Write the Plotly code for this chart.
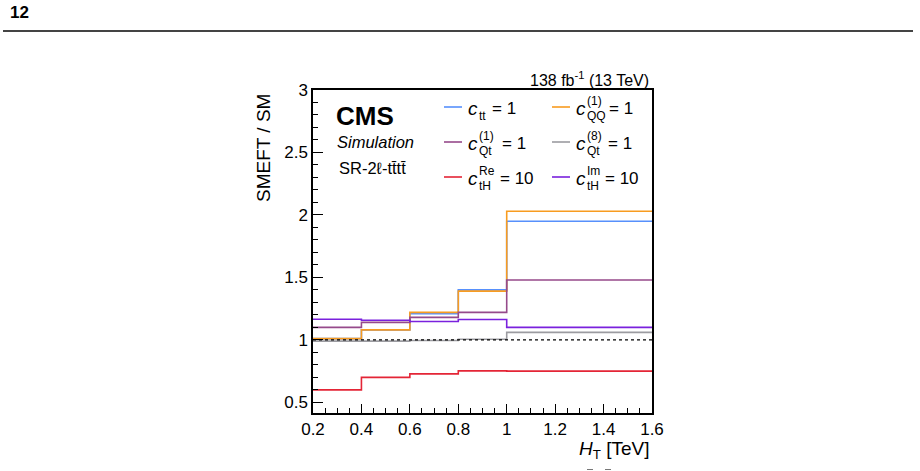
import plotly.graph_objects as go

# ---------------- data ----------------
bin_edges = [0.2, 0.4, 0.6, 0.8, 1.0, 1.6]
series_names = ["ctt", "cQQ1", "cQt1", "cQt8", "ctHRe", "ctHIm"]
ratio_ctt = [1.01, 1.08, 1.21, 1.40, 1.95]
ratio_cQQ1 = [1.01, 1.08, 1.22, 1.39, 2.03]
ratio_cQt1 = [1.10, 1.14, 1.18, 1.22, 1.48]
ratio_cQt8 = [0.99, 0.99, 0.995, 1.005, 1.06]
ratio_ctHRe = [0.60, 0.70, 0.728, 0.752, 0.75]
ratio_ctHIm = [1.165, 1.157, 1.147, 1.163, 1.10]
sm_reference = 1.0

x_ticks = [0.2, 0.4, 0.6, 0.8, 1.0, 1.2, 1.4, 1.6]
x_ticklabels = ["0.2", "0.4", "0.6", "0.8", "1", "1.2", "1.4", "1.6"]
y_ticks = [0.5, 1.0, 1.5, 2.0, 2.5, 3.0]
y_ticklabels = ["0.5", "1", "1.5", "2", "2.5", "3"]

colors = {
    "ctt": "#5790fc",
    "cQQ1": "#f89c20",
    "cQt1": "#964a8b",
    "cQt8": "#9c9ca1",
    "ctHRe": "#e42536",
    "ctHIm": "#7a21dd",
}
values = {
    "ctt": ratio_ctt,
    "cQQ1": ratio_cQQ1,
    "cQt1": ratio_cQt1,
    "cQt8": ratio_cQt8,
    "ctHRe": ratio_ctHRe,
    "ctHIm": ratio_ctHIm,
}

FONT = "Liberation Sans, Arial, Helvetica, sans-serif"
W, H = 920, 471
L, R, T, B = 313, 652, 90, 413


def px(x):
    return (x - L) / (R - L)


def py(y):
    return (B - y) / (B - T)


fig = go.Figure()

for name in series_names:
    v = values[name]
    fig.add_trace(go.Scatter(
        x=bin_edges,
        y=v + [v[-1]],
        mode="lines",
        line=dict(color=colors[name], width=1.6, shape="hv"),
        showlegend=False,
        hoverinfo="skip",
    ))

# SM reference dotted line
fig.add_trace(go.Scatter(
    x=[bin_edges[0], bin_edges[-1]],
    y=[sm_reference, sm_reference],
    mode="lines",
    line=dict(color="black", width=1.2, dash="dot"),
    showlegend=False,
    hoverinfo="skip",
))

annotations = []
shapes = []


def text(x, y, s, size, xanchor="left", yanchor="middle", color="black", **kw):
    annotations.append(dict(
        x=px(x), y=py(y), xref="paper", yref="paper", text=s,
        showarrow=False, xanchor=xanchor, yanchor=yanchor,
        font=dict(family=FONT, size=size, color=color), **kw))


# page header
text(8, 13, "<b>12</b>", 17)
shapes.append(dict(type="line", xref="paper", yref="paper",
                   x0=px(3), x1=px(913), y0=py(31), y1=py(31),
                   line=dict(color="#444444", width=2)))

# luminosity label
text(651, 79, "138 fb<sup>-1</sup> (13 TeV)", 16, xanchor="right")

# CMS labels
text(334, 116, "<b>CMS</b>", 26)
text(335, 142, "<i>Simulation</i>", 16.5)
text(337, 168, "SR-2\u2113-tt\u0304tt\u0304", 16.5)

# axis titles
text(263, 148, "SMEFT / SM", 19, xanchor="center", textangle=-90)
text(651, 450, "<i>H</i><sub>T</sub> [TeV]", 19, xanchor="right")

# legend entries (stacked sub/superscripts)
legend_items = [
    # name, col, row, sup, sub, rhs
    ("ctt", 0, 0, "", "tt", "= 1"),
    ("cQQ1", 1, 0, "(1)", "QQ", "= 1"),
    ("cQt1", 0, 1, "(1)", "Qt", "= 1"),
    ("cQt8", 1, 1, "(8)", "Qt", "= 1"),
    ("ctHRe", 0, 2, "Re", "tH", "= 10"),
    ("ctHIm", 1, 2, "Im", "tH", "= 10"),
]
col_x = [444, 552]
row_y = [107, 142, 177]
rhs_x = {"ctt": 490, "cQQ1": 607, "cQt1": 500, "cQt8": 606,
         "ctHRe": 498, "ctHIm": 603}
for name, c, r, sup, sub, rhs in legend_items:
    x0 = col_x[c]
    y0 = row_y[r]
    shapes.append(dict(type="line", xref="paper", yref="paper",
                       x0=px(x0), x1=px(x0 + 18), y0=py(y0), y1=py(y0),
                       line=dict(color=colors[name], width=1.6)))
    text(x0 + 22, y0 + 1, "<i>c</i>", 19)
    if sup:
        text(x0 + 33, y0 - 6, sup, 12)
    text(x0 + 33, y0 + 9, sub, 12)
    text(rhs_x[name], y0 + 1, rhs, 17)

# cut-off caption overlines at bottom
for xa, xb in [(587, 593), (605, 611)]:
    shapes.append(dict(type="line", xref="paper", yref="paper",
                       x0=px(xa), x1=px(xb), y0=py(469.5), y1=py(469.5),
                       line=dict(color="#777777", width=1)))

fig.update_layout(
    width=W, height=H,
    margin=dict(l=L, r=W - R, t=T, b=H - B, pad=0),
    paper_bgcolor="white", plot_bgcolor="white",
    font=dict(family=FONT, size=17, color="black"),
    annotations=annotations,
    shapes=shapes,
    showlegend=False,
)

fig.update_xaxes(
    range=[0.2, 1.6],
    tickvals=x_ticks, ticktext=x_ticklabels,
    ticks="inside", ticklen=9, tickwidth=1.2, tickcolor="black",
    minor=dict(ticks="inside", ticklen=5, dtick=0.05, tick0=0.2,
               tickcolor="black", tickwidth=1.2, showgrid=False),
    showline=True, linecolor="black", linewidth=1.5, mirror=True,
    showgrid=False, zeroline=False,
    tickfont=dict(family=FONT, size=17, color="black"),
)
fig.update_yaxes(
    range=[0.415, 3.0],
    tickvals=y_ticks, ticktext=y_ticklabels,
    ticks="inside", ticklen=10, tickwidth=1.2, tickcolor="black",
    minor=dict(ticks="inside", ticklen=5, dtick=0.1, tick0=0.0,
               tickcolor="black", tickwidth=1.2, showgrid=False),
    showline=True, linecolor="black", linewidth=1.5, mirror=True,
    showgrid=False, zeroline=False,
    tickfont=dict(family=FONT, size=17, color="black"),
)

fig.write_html("out.html")
